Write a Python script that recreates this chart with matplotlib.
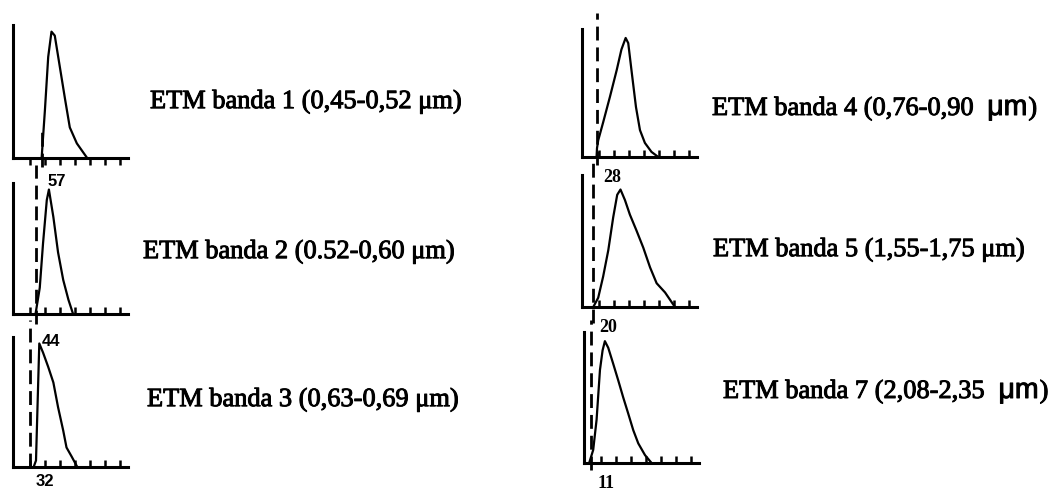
import matplotlib
matplotlib.use("Agg")
import matplotlib.pyplot as plt
import matplotlib.patheffects as pe
from matplotlib.transforms import blended_transform_factory

# ---------------- data ----------------
band_titles = [
    "ETM banda 1 (0,45-0,52 μm)",
    "ETM banda 2 (0.52-0,60 μm)",
    "ETM banda 3 (0,63-0,69 μm)",
    ("ETM banda 4 (0,76-0,90", "μm", ")"),
    "ETM banda 5 (1,55-1,75 μm)",
    ("ETM banda 7 (2,08-2,35", "μm", ")"),
]
haze_values = [57, 44, 32, 28, 20, 11]
tick_values = [32, 64, 96, 128, 160, 192, 224]

b1_dn = [57, 64, 71, 78, 85, 96, 107, 117, 132, 154]
b1_freq = [0, 0.36, 0.76, 0.95, 0.92, 0.68, 0.44, 0.23, 0.11, 0.0]

b2_dn = [44, 53, 60, 68, 72.5, 82, 92, 103, 114, 124]
b2_freq = [0, 0.20, 0.54, 0.87, 0.95, 0.74, 0.47, 0.26, 0.11, 0.0]

b3_dn = [40, 45, 52, 60, 71, 82, 92, 103, 110, 121, 133]
b3_freq = [0, 0.05, 0.95, 0.88, 0.77, 0.65, 0.46, 0.28, 0.15, 0.08, 0.0]

b4_dn = [27, 28, 30.5, 41, 55.5, 70, 80, 89, 94.5, 102, 111, 119.5, 130, 144, 158.5]
b4_freq = [0, 0.07, 0.13, 0.27, 0.47, 0.68, 0.84, 0.93, 0.89, 0.66, 0.39, 0.21, 0.11, 0.04, 0.0]

b5_dn = [20, 30.5, 41, 52, 62.5, 71, 78, 87.5, 98, 112, 126.5, 141, 155, 173, 194]
b5_freq = [0, 0.07, 0.23, 0.43, 0.68, 0.85, 0.89, 0.81, 0.70, 0.58, 0.45, 0.30, 0.18, 0.11, 0.0]

b6_dn = [7, 15.6, 22.8, 30, 35.6, 40.5, 47.6, 58, 69, 79.6, 90, 101, 111.6, 126, 140]
b6_freq = [0.0, 0.10, 0.33, 0.71, 0.86, 0.93, 0.88, 0.76, 0.63, 0.50, 0.38, 0.25, 0.15, 0.06, 0.0]

curves = [(b1_dn, b1_freq), (b2_dn, b2_freq), (b3_dn, b3_freq),
          (b4_dn, b4_freq), (b5_dn, b5_freq), (b6_dn, b6_freq)]

# ---------------- layout (pixels) ----------------
W, H, DPI = 1051, 493, 100
# left, top, bottom of each panel
panels = [(13, 25, 158), (13, 183, 314), (13, 337, 467),
          (582, 29, 157), (582, 175, 307), (584, 332, 463)]
PANEL_W = 115
tick_dir = ["out", "in", "in", "in", "in", "in"]
dash_ext = [(-0.07, 0.2), (-0.08, 1.14), (0.0, 1.13),
            (-0.06, 1.125), (-0.12, 1.11), (-0.05, 1.09)]
label_drop = [23, 27, 15, 20, 20, 21]
label_fonts = ["Liberation Sans"] * 3 + ["Liberation Serif"] * 3
label_sizes = [12, 12, 12, 13, 13, 13]
title_pos = [(150, 102), (143, 252), (147, 400), (712, 108), (713, 250), (723, 391)]

bold_fx = [pe.withStroke(linewidth=0.7, foreground="black")]

fig = plt.figure(figsize=(W / DPI, H / DPI), dpi=DPI)
fig.patch.set_facecolor("white")

for i, ((l, t, b), (xs, ys)) in enumerate(zip(panels, curves)):
    ax = fig.add_axes([l / W, 1 - b / H, PANEL_W / W, (b - t) / H])
    ax.set_xlim(-4, 241)
    ax.set_ylim(0, 1)
    ax.plot(xs, ys, color="black", lw=1.6, solid_joinstyle="round")
    for s in ("top", "right"):
        ax.spines[s].set_visible(False)
    for s in ("left", "bottom"):
        ax.spines[s].set_linewidth(2.2)
    ax.set_yticks([])
    ax.set_xticks(tick_values)
    ax.set_xticklabels([])
    ax.tick_params(axis="x", direction=tick_dir[i], length=5, width=1.8)
    ax.set_facecolor("none")
    tr = blended_transform_factory(ax.transData, ax.transAxes)
    y0, y1 = dash_ext[i]
    ax.plot([haze_values[i]] * 2, [y0, y1], transform=tr, clip_on=False,
            color="black", lw=2.0, ls=(0, (5, 2.5)))
    ax.annotate(str(haze_values[i]), xy=(haze_values[i], 0), xycoords=tr,
                xytext=(6 * 0.72, -label_drop[i] * 0.72), textcoords="offset points",
                ha="left", va="center", fontsize=label_sizes[i],
                family=label_fonts[i], fontweight="bold", annotation_clip=False)

axT = fig.add_axes([0, 0, 1, 1])
axT.set_xlim(0, W)
axT.set_ylim(H, 0)
axT.axis("off")

FS = 19
for title, (x, y) in zip(band_titles, title_pos):
    if isinstance(title, str):
        axT.text(x, y, title, ha="left", va="center", fontsize=FS,
                 family="Liberation Serif", path_effects=bold_fx)
    else:
        t1 = axT.text(x, y + 7, title[0], ha="left", va="baseline", fontsize=FS,
                      family="Liberation Serif", path_effects=bold_fx)
        fig.canvas.draw()
        r = fig.canvas.get_renderer()
        bb = t1.get_window_extent(r)
        x2 = axT.transData.inverted().transform((bb.x1, 0))[0] + 14
        t2 = axT.text(x2, y + 7, title[1], ha="left", va="baseline", fontsize=20.5,
                      family="Liberation Sans", path_effects=bold_fx)
        fig.canvas.draw()
        bb2 = t2.get_window_extent(r)
        x3 = axT.transData.inverted().transform((bb2.x1, 0))[0] + 1
        axT.text(x3, y + 7, title[2], ha="left", va="baseline", fontsize=FS,
                 family="Liberation Serif", path_effects=bold_fx)

fig.savefig("out.png", dpi=DPI, facecolor="white")
